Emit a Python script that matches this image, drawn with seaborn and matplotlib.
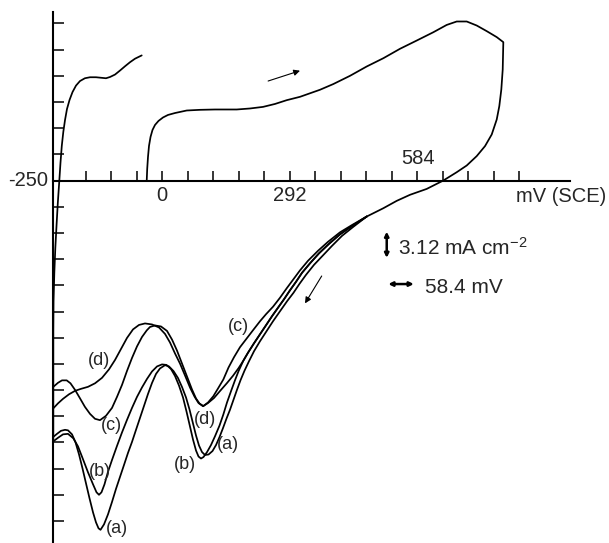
import numpy as np
import pandas as pd
import matplotlib
matplotlib.use("Agg")
import matplotlib.pyplot as plt
import seaborn as sns

# ---------------- data (E in mV vs SCE, i in mA cm^-2) ----------------
# forward (anodic) sweep, turn at the positive limit, common start of the reverse sweep
FWD_E = [-35.0, -33.9, -32.1, -29.8, -26.3, -21.8, -16.0, -8.0, 2.3, 13.7, 29.8, 56.6,
         87.0, 121.4, 171.1, 201.5, 231.3, 258.8, 285.6, 316.0, 338.9, 361.8, 392.3,
         430.5, 468.7, 507.0, 545.0, 583.2, 621.3, 651.9, 674.9, 697.8, 720.7, 743.6,
         766.5, 781.6, 780.2, 777.0, 772.4, 766.5, 755.0, 739.7, 720.7, 697.8, 674.9,
         644.2, 606.1, 567.9, 537.5, 506.8, 468.7]
FWD_I = [0.0, 1.38, 2.81, 4.12, 5.19, 6.02, 6.62, 7.10, 7.51, 7.81, 8.04, 8.34,
         8.42, 8.46, 8.46, 8.58, 8.77, 9.12, 9.57, 9.97, 10.39, 10.81, 11.49,
         12.47, 13.58, 14.57, 15.69, 16.67, 17.66, 18.53, 18.94, 18.94, 18.46, 17.79,
         17.08, 16.48, 13.22, 10.84, 8.86, 7.27, 5.48, 4.10, 2.91, 1.79, 0.99,
         0.0, -1.00, -1.70, -2.42, -3.30, -4.29]

# reverse (cathodic) sweeps, curves (a)-(d)
REV_C_E = [468.7, 435.1, 407.6, 380.1, 357.2, 334.3, 316.0, 299.9, 285.6, 270.2, 254.2,
           238.2, 224.4, 208.4, 193.5, 178.6, 164.9, 152.3, 140.4, 128.2, 117.5, 105.3,
           94.6, 85.9, 77.9, 68.7, 57.2, 45.8, 34.3, 22.9, 11.4, -2.3, -16.0, -27.5,
           -35.0, -45.8, -57.3, -68.7, -80.2, -91.6, -103.1, -114.5, -128.3, -142.0,
           -153.4, -164.9, -176.6, -187.8, -199.2, -209.6, -218.3, -229.0, -238.2, -248.9]
REV_C_I = [-4.29, -5.30, -6.17, -7.30, -8.37, -9.56, -10.70, -11.83, -12.83, -13.96, -15.03,
           -15.92, -16.76, -17.83, -18.84, -19.85, -21.04, -22.27, -23.70, -24.77, -25.69,
           -26.44, -26.86, -26.56, -25.96, -24.89, -23.34, -21.80, -20.25, -18.94, -17.91,
           -17.38, -17.26, -17.44, -17.85, -18.63, -19.76, -21.13, -22.68, -24.34, -25.77,
           -27.08, -28.02, -28.54, -28.38, -27.79, -26.95, -25.94, -24.93, -24.15, -23.80,
           -23.80, -24.09, -24.57]

REV_D_E = [468.7, 435.1, 407.6, 382.4, 359.5, 338.9, 320.6, 306.9, 293.1, 279.4, 265.6,
           251.9, 239.8, 224.4, 210.7, 196.9, 186.2, 175.2, 162.6, 148.8, 132.8, 119.1,
           105.3, 93.9, 83.6, 74.4, 64.1, 52.7, 41.2, 29.8, 18.3, 6.9, -6.9, -22.9,
           -38.9, -52.7, -66.4, -80.2, -93.9, -107.6, -121.4, -137.4, -153.4, -169.5,
           -185.5, -199.2, -213.0, -226.7, -238.2, -248.9]
REV_D_I = [-4.29, -5.42, -6.41, -7.54, -8.67, -9.86, -10.99, -12.06, -13.07, -14.14, -15.15,
           -16.16, -17.11, -18.31, -19.38, -20.51, -21.46, -22.35, -23.25, -24.12, -25.07,
           -25.90, -26.50, -26.88, -26.50, -25.73, -24.65, -23.22, -21.80, -20.60, -19.29,
           -18.27, -17.50, -17.14, -17.02, -17.20, -17.73, -18.75, -20.06, -21.37, -22.49,
           -23.50, -24.15, -24.57, -24.81, -25.05, -25.46, -26.00, -26.54, -27.13]

REV_B_E = [468.7, 435.1, 407.6, 382.4, 359.5, 338.9, 320.6, 306.9, 293.1, 279.4, 265.6,
           251.9, 239.8, 224.4, 210.7, 196.9, 186.2, 175.2, 167.2, 158.0, 148.8, 140.4,
           131.7, 121.4, 112.2, 103.1, 95.0, 89.3, 83.6, 77.9, 71.0, 64.1, 56.1, 48.1,
           38.9, 29.8, 20.6, 10.3, 0.0, -11.4, -22.9, -34.4, -45.8, -57.3, -68.7, -80.2,
           -91.6, -103.1, -114.5, -123.7, -131.7, -138.6, -144.3, -150.0, -158.0, -169.5,
           -180.9, -192.4, -203.1, -215.3, -226.7, -238.2, -248.9]
REV_B_I = [-4.29, -5.42, -6.41, -7.54, -8.67, -9.86, -10.99, -12.06, -13.07, -14.14, -15.15,
           -16.16, -17.11, -18.31, -19.38, -20.51, -21.46, -22.71, -23.78, -25.09, -26.44,
           -27.87, -29.18, -30.45, -31.50, -32.34, -32.93, -33.11, -32.87, -32.16, -30.85,
           -29.30, -27.51, -25.84, -24.42, -23.28, -22.45, -21.96, -21.90, -22.14, -22.74,
           -23.63, -24.64, -25.77, -27.08, -28.51, -30.00, -31.61, -33.28, -34.69, -36.18,
           -37.13, -37.43, -37.13, -36.18, -34.75, -33.20, -31.66, -30.70, -30.17, -30.23,
           -30.64, -31.06]

REV_A_E = [468.7, 437.4, 412.2, 389.3, 368.7, 348.1, 329.8, 314.9, 301.1, 286.3, 270.2,
           254.2, 239.3, 224.4, 210.7, 199.2, 188.9, 179.8, 171.7, 163.7, 155.7, 147.7,
           139.7, 131.7, 123.7, 115.6, 106.5, 98.5, 91.6, 84.7, 77.9, 71.0, 63.0, 55.0,
           45.8, 36.6, 26.3, 16.0, 6.9, -4.6, -13.7, -22.9, -32.1, -41.2, -50.4, -59.6,
           -68.7, -77.9, -87.0, -96.2, -105.4, -114.5, -123.7, -132.8, -140.8, -145.4,
           -151.2, -158.0, -166.0, -174.1, -182.1, -190.1, -198.1, -206.1, -215.3, -222.1,
           -231.3, -240.5, -248.9]
REV_A_I = [-4.29, -5.54, -6.59, -7.78, -8.91, -10.04, -11.23, -12.30, -13.37, -14.38, -15.57,
           -16.76, -17.95, -19.14, -20.33, -21.52, -22.65, -23.78, -24.92, -26.11, -27.30,
           -28.35, -29.48, -30.55, -31.50, -32.22, -32.63, -32.69, -32.34, -31.56, -30.37,
           -28.94, -27.27, -25.84, -24.59, -23.52, -22.69, -22.14, -21.99, -22.38, -23.03,
           -24.11, -25.42, -26.84, -28.27, -29.70, -31.13, -32.44, -33.87, -35.30, -36.73,
           -38.28, -39.76, -40.95, -41.60, -41.42, -40.71, -39.52, -37.85, -36.06, -34.28,
           -32.61, -31.18, -30.23, -29.75, -29.69, -29.81, -30.17, -30.53]

# return at the negative limit and start of the next anodic sweep
RET_E = [-248.9, -248.9, -248.4, -246.6, -244.3, -241.6, -238.6, -235.2, -232.5, -229.5,
         -226.0, -222.1, -217.6, -211.8, -204.9, -196.9, -187.8, -176.6, -164.9, -151.2,
         -139.7, -128.3, -119.1, -107.6, -96.2, -84.7, -73.3, -61.8, -46.5]
RET_I = [-31.06, -17.90, -14.33, -10.99, -8.02, -5.40, -2.66, -0.04, 2.11, 4.13,
         5.80, 7.21, 8.52, 9.59, 10.54, 11.31, 11.85, 12.18, 12.30, 12.30,
         12.24, 12.18, 12.33, 12.62, 13.10, 13.61, 14.09, 14.51, 14.90]

CURVE_LABELS = ["(a)", "(b)", "(c)", "(d)"]
# label anchor points (E, i): left-hand set and right-hand set
LABEL_LEFT_E = [-103.7, -142.0, -115.2, -143.6]
LABEL_LEFT_I = [-41.46, -34.68, -29.14, -21.4]
LABEL_RIGHT_E = [151.1, 52.7, 174.3, 98.5]
LABEL_RIGHT_I = [-31.48, -33.80, -17.41, -28.48]

X_TICK_STEP = 58.4     # mV per division
Y_TICK_STEP = 3.12     # mA cm^-2 per division
X_TICK_LABELS = ["0", "292"]
X_TICK_LABEL_POS = [0, 292]
E_START = -250
SCALE_I = 3.12
SCALE_V = 58.4

# ---------------- build a tidy table ----------------
segments = {
    "fwd": (FWD_E, FWD_I),
    "a": (REV_A_E, REV_A_I),
    "b": (REV_B_E, REV_B_I),
    "c": (REV_C_E, REV_C_I),
    "d": (REV_D_E, REV_D_I),
    "ret": (RET_E, RET_I),
}
rows = []
for name, (es, is_) in segments.items():
    for k, (e, i) in enumerate(zip(es, is_)):
        rows.append({"seg": name, "order": k, "E": e, "i": i})
df = pd.DataFrame(rows)

# ---------------- figure ----------------
sns.set_theme(style="white")
plt.rcParams["font.family"] = ["Liberation Sans", "DejaVu Sans"]
plt.rcParams["mathtext.fontset"] = "custom"
plt.rcParams["mathtext.rm"] = "Liberation Sans"
plt.rcParams["mathtext.default"] = "regular"

fig = plt.figure(figsize=(6.09, 5.43), dpi=100)
ax = fig.add_axes([0, 0, 1, 1])

sns.lineplot(data=df, x="E", y="i", units="seg", estimator=None, sort=False,
             color="black", lw=1.25, ax=ax, legend=False)
for ln in ax.lines:
    ln.set_solid_joinstyle("round")
    ln.set_solid_capstyle("round")

ax.set_xlim(-371.0, 1023.6)
ax.set_ylim(-43.17, 21.50)

# axes through the origin of the scan
for s in ["top", "right"]:
    ax.spines[s].set_visible(False)
ax.spines["left"].set_position(("data", E_START))
ax.spines["left"].set_bounds(-43.2, 20.1)
ax.spines["bottom"].set_position(("data", 0))
ax.spines["bottom"].set_bounds(E_START, 934)
for s in ["left", "bottom"]:
    ax.spines[s].set_color("black")
    ax.spines[s].set_linewidth(1.5)

xt = [X_TICK_STEP * k for k in range(-3, 15)]
yt = [Y_TICK_STEP * k for k in range(-13, 7) if k != 0]
ax.set_xticks(xt)
ax.set_yticks(yt)
ax.tick_params(axis="x", direction="in", length=7, width=1.1, color="black",
               labelbottom=False, bottom=True)
ax.tick_params(axis="y", direction="in", length=8, width=1.1, color="black",
               labelleft=False, left=True)
ax.set_xlabel("")
ax.set_ylabel("")
ax.grid(False)

# tick texts
fs_axis = 14.5
ax.text(E_START - 10, 0, str(E_START), ha="right", va="center", fontsize=fs_axis)
for lab, pos in zip(X_TICK_LABELS, X_TICK_LABEL_POS):
    ax.text(pos, -1.73, lab, ha="center", va="center", fontsize=fs_axis)
ax.text(586, 2.64, "584", ha="center", va="center", fontsize=fs_axis)
ax.text(913, -1.85, "mV (SCE)", ha="center", va="center", fontsize=fs_axis)

# scale bars
ax.annotate("", xy=(514.6, -7.65 + SCALE_I / 2), xytext=(514.6, -7.65 - SCALE_I / 2),
            arrowprops=dict(arrowstyle="<|-|>", color="black", lw=1.8,
                            mutation_scale=6, shrinkA=0, shrinkB=0))
ax.text(541.1, -8.87, "3.12 mA cm$^{-2}$", ha="left", va="baseline", fontsize=15)
ax.annotate("", xy=(518.2 + SCALE_V, -12.33), xytext=(518.2, -12.33),
            arrowprops=dict(arrowstyle="<|-|>", color="black", lw=1.8,
                            mutation_scale=6, shrinkA=0, shrinkB=0))
ax.text(602.3, -13.36, "58.4 mV", ha="left", va="baseline", fontsize=15)

# scan direction arrows
ax.annotate("", xy=(316.0, 13.08), xytext=(243.0, 11.85),
            arrowprops=dict(arrowstyle="-|>", color="black", lw=0.8,
                            mutation_scale=9, shrinkA=0, shrinkB=0))
ax.annotate("", xy=(327.5, -14.63), xytext=(365.7, -11.37),
            arrowprops=dict(arrowstyle="-|>", color="black", lw=0.8,
                            mutation_scale=9, shrinkA=0, shrinkB=0))

# curve labels
for lab, e, i in zip(CURVE_LABELS, LABEL_LEFT_E, LABEL_LEFT_I):
    ax.text(e, i, lab, ha="center", va="center", fontsize=13)
for lab, e, i in zip(CURVE_LABELS, LABEL_RIGHT_E, LABEL_RIGHT_I):
    ax.text(e, i, lab, ha="center", va="center", fontsize=13)

fig.savefig("out.png", dpi=100, facecolor="white")
